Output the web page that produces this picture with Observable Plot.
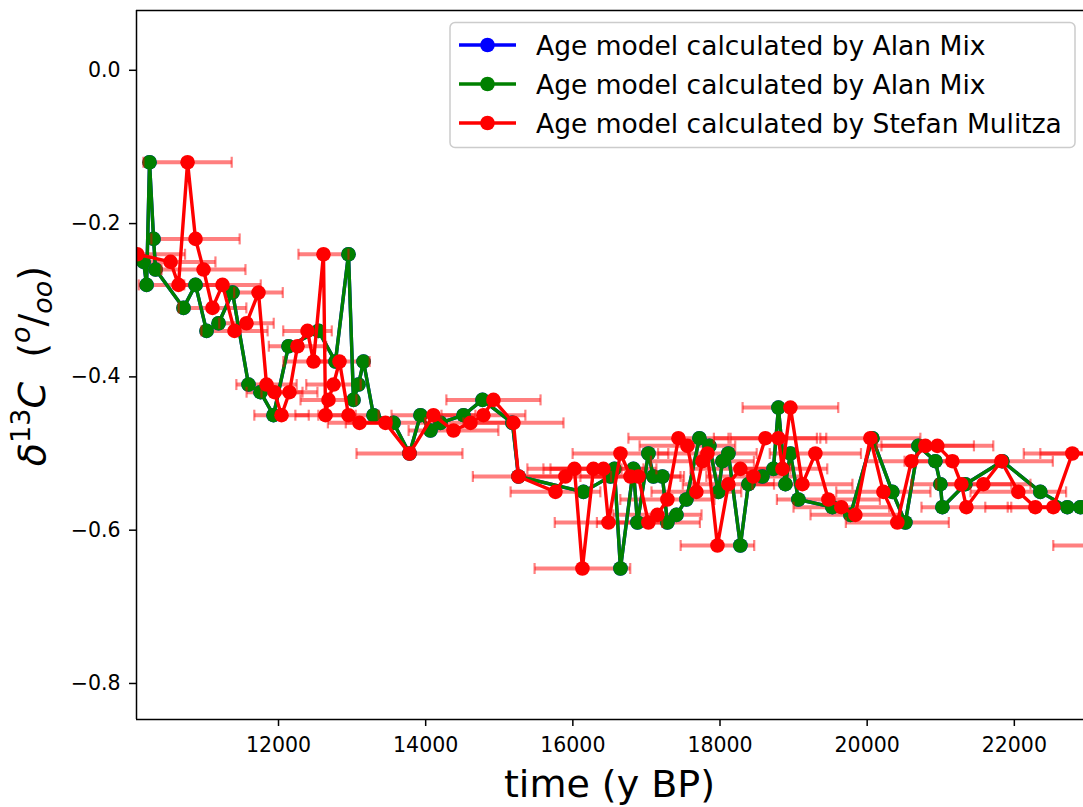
<!DOCTYPE html>
<html>
<head>
<meta charset="utf-8">
<script src="https://cdn.jsdelivr.net/npm/d3@7"></script>
<script src="https://cdn.jsdelivr.net/npm/@observablehq/plot@0.6"></script>
<style>
  html, body { margin: 0; padding: 0; background: #ffffff; }
  svg { display: block; }
</style>
</head>
<body>
<div id="chart"></div>
<script>
// ---- data ----
const seriesLabels = ["Age model calculated by Alan Mix", "Age model calculated by Alan Mix", "Age model calculated by Stefan Mulitza"];
const seriesColors = ["blue", "green", "red"];

const greenTime = [10166,10207,10247,10302,10329,10709,10872,11022,11185,11375,11592,11755,11932,12136,12543,12774,12951,13019,13087,13155,13291,13563,13780,13929,14065,14201,14514,14772,15179,15261,16144,16511,16565,16647,16823,16878,17027,17095,17217,17285,17408,17543,17720,17856,17978,18033,18114,18277,18386,18576,18726,18794,18889,18957,19065,19527,19772,20071,20342,20519,20696,20927,20995,21022,21334,21837,22353,22720,22897,23101];
const greenD13C = [-0.25,-0.28,-0.12,-0.22,-0.26,-0.31,-0.28,-0.34,-0.33,-0.29,-0.41,-0.42,-0.45,-0.36,-0.34,-0.38,-0.24,-0.43,-0.41,-0.38,-0.45,-0.46,-0.50,-0.45,-0.47,-0.46,-0.45,-0.43,-0.46,-0.53,-0.55,-0.53,-0.52,-0.65,-0.52,-0.59,-0.50,-0.53,-0.53,-0.59,-0.58,-0.56,-0.48,-0.49,-0.55,-0.51,-0.50,-0.62,-0.54,-0.53,-0.52,-0.44,-0.54,-0.50,-0.56,-0.57,-0.58,-0.48,-0.55,-0.59,-0.49,-0.51,-0.54,-0.57,-0.54,-0.51,-0.55,-0.57,-0.57,-0.57];

// the blue series (same age model) lies exactly under the green one
const blueTime = greenTime.slice();
const blueD13C = greenD13C.slice();

const redTime = [10080,10533,10641,10764,10872,10981,11103,11239,11402,11565,11728,11837,11946,12041,12149,12258,12394,12476,12611,12639,12679,12747,12829,12951,13101,13454,13780,14106,14378,14609,14785,14921,15193,15261,15764,15899,16022,16130,16280,16416,16484,16647,16783,16891,17027,17149,17285,17435,17557,17679,17761,17829,17965,18114,18277,18454,18617,18794,18848,18957,19120,19296,19473,19649,19840,20043,20220,20410,20601,20791,20954,21158,21280,21348,21579,21823,22054,22285,22530,22788,23033,23209];
const redD13C = [-0.24,-0.25,-0.28,-0.12,-0.22,-0.26,-0.31,-0.28,-0.34,-0.33,-0.29,-0.41,-0.42,-0.45,-0.42,-0.36,-0.34,-0.38,-0.24,-0.45,-0.43,-0.41,-0.38,-0.45,-0.46,-0.46,-0.50,-0.45,-0.47,-0.46,-0.45,-0.43,-0.46,-0.53,-0.55,-0.53,-0.52,-0.65,-0.52,-0.52,-0.59,-0.50,-0.53,-0.53,-0.59,-0.58,-0.56,-0.48,-0.49,-0.55,-0.51,-0.50,-0.62,-0.54,-0.52,-0.53,-0.48,-0.48,-0.52,-0.44,-0.54,-0.50,-0.56,-0.57,-0.58,-0.48,-0.55,-0.59,-0.51,-0.49,-0.49,-0.51,-0.54,-0.57,-0.54,-0.51,-0.55,-0.57,-0.57,-0.50,-0.50,-0.62];
const redAgeErr = [650,610,540,600,600,570,460,520,450,370,330,410,380,370,380,390,330,410,340,410,380,370,410,410,430,540,720,570,610,610,570,640,680,620,610,620,640,650,680,720,730,650,680,620,700,600,640,680,650,610,700,670,500,620,680,640,700,650,610,650,680,620,700,650,610,680,640,700,620,660,760,650,680,610,640,700,650,680,620,660,680,680];

const xTicks = [12000, 14000, 16000, 18000, 20000, 22000];
const yTicks = [0.0, -0.2, -0.4, -0.6, -0.8];
const xDomain = [10070, 22940];
const yDomain = [-0.847, 0.078];

// ---- tables ----
const blue = blueTime.map((t, i) => ({t, v: blueD13C[i]}));
const green = greenTime.map((t, i) => ({t, v: greenD13C[i]}));
const red = redTime.map((t, i) => ({t, v: redD13C[i], e: redAgeErr[i]}));
const redCaps = red.flatMap(d => [{t: d.t - d.e, v: d.v}, {t: d.t + d.e, v: d.v}]);

const capSymbol = {draw(ctx) { ctx.moveTo(0, -5.5); ctx.lineTo(0, 5.5); }};
const LW = 3.4, R = 7.3;

const chart = Plot.plot({
  width: 1083,
  height: 807,
  marginLeft: 136,
  marginRight: 0,
  marginTop: 10,
  marginBottom: 88,
  style: {fontFamily: "DejaVu Sans", background: "#ffffff", color: "#000000"},
  x: {domain: xDomain, axis: null},
  y: {domain: yDomain, axis: null},
  marks: [
    Plot.link(red, {x1: d => d.t - d.e, x2: d => d.t + d.e, y1: "v", y2: "v", stroke: seriesColors[2], strokeOpacity: 0.5, strokeWidth: 4, clip: true}),
    Plot.line(blue, {x: "t", y: "v", stroke: seriesColors[0], strokeWidth: LW, clip: true}),
    Plot.dot(blue, {x: "t", y: "v", fill: seriesColors[0], r: R, clip: true}),
    Plot.line(green, {x: "t", y: "v", stroke: seriesColors[1], strokeWidth: LW, clip: true}),
    Plot.dot(green, {x: "t", y: "v", fill: seriesColors[1], r: R, clip: true}),
    Plot.line(red, {x: "t", y: "v", stroke: seriesColors[2], strokeWidth: LW, clip: true}),
    Plot.dot(red, {x: "t", y: "v", fill: seriesColors[2], r: R, clip: true}),
    Plot.dot(redCaps, {x: "t", y: "v", symbol: capSymbol, fill: "none", stroke: seriesColors[2], strokeOpacity: 0.5, strokeWidth: 2.2, clip: true}),
    Plot.ruleX([xDomain[0]], {stroke: "#000", strokeWidth: 1.5}),
    Plot.ruleY(yDomain, {stroke: "#000", strokeWidth: 1.5}),
    Plot.axisX({ticks: xTicks, tickSize: 7, tickPadding: 11, fontSize: 20.5, strokeWidth: 1.5, tickFormat: d => String(d), label: null}),
    Plot.axisY({ticks: yTicks, tickSize: 7, tickPadding: 9, fontSize: 20.5, strokeWidth: 1.5,
      tickFormat: d => d === 0 ? "0.0" : d.toFixed(1).replace("-", "\u2212"), label: null})
  ]
});

document.getElementById("chart").appendChild(chart);

// ---- legend, axis labels ----
const svg = d3.select(chart);
const lg = svg.append("g").attr("font-family", "DejaVu Sans").attr("text-anchor", "start");
lg.append("rect")
  .attr("x", 450).attr("y", 22.5).attr("width", 625).attr("height", 125)
  .attr("rx", 5).attr("fill", "#ffffff").attr("fill-opacity", 0.8)
  .attr("stroke", "#cccccc").attr("stroke-width", 1.5);
const rowY = [45, 84, 123];
seriesLabels.forEach((lab, i) => {
  lg.append("line").attr("x1", 459).attr("x2", 516).attr("y1", rowY[i]).attr("y2", rowY[i])
    .attr("stroke", seriesColors[i]).attr("stroke-width", LW);
  lg.append("circle").attr("cx", 487.5).attr("cy", rowY[i]).attr("r", R).attr("fill", seriesColors[i]);
  lg.append("text").attr("x", 536).attr("y", rowY[i] + 9.5).attr("font-size", 26.5)
    .attr("text-anchor", "start").attr("fill", "#000").text(lab);
});

svg.append("text")
  .attr("x", 609.5).attr("y", 797).attr("text-anchor", "middle")
  .attr("font-family", "DejaVu Sans").attr("font-size", 38).attr("fill", "#000")
  .text("time (y BP)");

const yl = svg.append("text")
  .attr("transform", "translate(45,366) rotate(-90)")
  .attr("text-anchor", "middle")
  .attr("font-family", "DejaVu Sans").attr("font-size", 38).attr("fill", "#000");
yl.append("tspan").attr("font-style", "italic").text("\u03B4");
yl.append("tspan").attr("font-size", 27).attr("dy", -15).text("13");
yl.append("tspan").attr("font-style", "italic").attr("dy", 15).text("C");
yl.append("tspan").text("\u00A0\u00A0(");
yl.append("tspan").attr("font-size", 27).attr("font-style", "italic").attr("dy", -15).text("o");
yl.append("tspan").attr("dy", 15).text("/");
yl.append("tspan").attr("font-size", 27).attr("font-style", "italic").attr("dy", 7).text("oo");
yl.append("tspan").attr("dy", -7).text(")");
</script>
</body>
</html>
